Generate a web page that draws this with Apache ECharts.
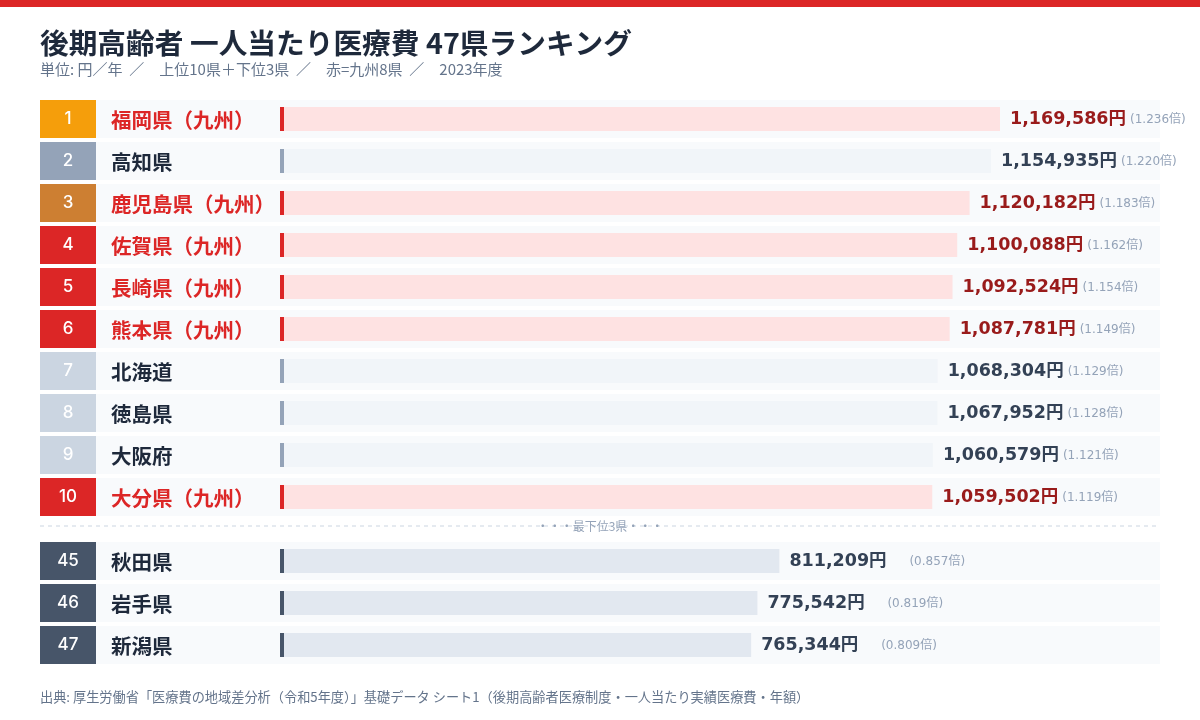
<!DOCTYPE html>
<html>
<head>
<meta charset="utf-8">
<script src="https://cdn.jsdelivr.net/npm/echarts@6/dist/echarts.min.js"></script>
<style>
html,body{margin:0;padding:0;background:#fff;}
#main{width:1200px;height:720px;}
</style>
</head>
<body>
<div id="main"></div>
<script>
// ---- data ----
const ranks = [1, 2, 3, 4, 5, 6, 7, 8, 9, 10, 45, 46, 47];
const prefectures = ['福岡県', '高知県', '鹿児島県', '佐賀県', '長崎県', '熊本県', '北海道', '徳島県', '大阪府', '大分県', '秋田県', '岩手県', '新潟県'];
const values = [1169586, 1154935, 1120182, 1100088, 1092524, 1087781, 1068304, 1067952, 1060579, 1059502, 811209, 775542, 765344];
const ratios = ['1.236', '1.220', '1.183', '1.162', '1.154', '1.149', '1.129', '1.128', '1.121', '1.119', '0.857', '0.819', '0.809'];
const kyushu = [true, false, true, true, true, true, false, false, false, true, false, false, false];
const topCount = 10;

const FONT = "'Noto Sans CJK JP', 'Noto Sans', sans-serif";
const NUMFONT = "Inter, 'Noto Sans CJK JP', sans-serif";
const VALFONT = "'DejaVu Sans', 'Noto Sans CJK JP', sans-serif";

function isBottom(i) { return i >= topCount; }
function badgeColor(i) {
  const r = ranks[i];
  if (r === 1) return '#f59e0b';
  if (r === 2) return '#94a3b8';
  if (r === 3) return '#cd7f32';
  if (isBottom(i)) return '#475569';
  if (kyushu[i]) return '#dc2626';
  return '#cbd5e1';
}
function barColor(i) { return kyushu[i] ? '#fee2e2' : (isBottom(i) ? '#e2e8f0' : '#f1f5f9'); }
function accentColor(i) { return kyushu[i] ? '#dc2626' : (isBottom(i) ? '#475569' : '#94a3b8'); }
function displayName(i) { return prefectures[i] + (kyushu[i] ? '（九州）' : ''); }

const groups = [
  { start: 0, end: topCount, top: 98, height: 420 },
  { start: topCount, end: ranks.length, top: 540, height: 126 }
];

const grids = [], xAxes = [], yAxes = [], series = [];
groups.forEach(function (g, gi) {
  grids.push({ left: 280, top: g.top, width: 720, height: g.height, containLabel: false });
  xAxes.push({ type: 'value', gridIndex: gi, min: 0, max: values[0], show: false });
  yAxes.push({ type: 'category', gridIndex: gi, inverse: true, data: prefectures.slice(g.start, g.end), show: false });
  const idxs = [];
  for (let i = g.start; i < g.end; i++) idxs.push(i);

  // row background, badge, name
  series.push({
    type: 'custom', xAxisIndex: gi, yAxisIndex: gi, z: 1, silent: true,
    data: idxs.map(function (i) { return [0, i - g.start]; }),
    renderItem: function (params, api) {
      const i = g.start + params.dataIndex;
      const p = api.coord([0, params.dataIndex]);
      const band = api.size([0, 1])[1];
      const rh = band - 4;
      const left = params.coordSys.x - 240;
      const right = params.coordSys.x + 880;
      return {
        type: 'group',
        children: [
          { type: 'rect', shape: { x: left, y: p[1] - rh / 2, width: right - left, height: rh }, style: { fill: '#f8fafc' } },
          { type: 'rect', shape: { x: left, y: p[1] - rh / 2, width: 56, height: rh }, style: { fill: badgeColor(i) } },
          { type: 'text', style: { x: left + 28, y: p[1], text: String(ranks[i]), align: 'center', verticalAlign: 'middle', fontSize: 17, fontWeight: 500, fontFamily: NUMFONT, fill: '#ffffff' } },
          { type: 'text', style: { x: left + 71, y: p[1] + 1, text: displayName(i), align: 'left', verticalAlign: 'middle', fontSize: 20.5, fontWeight: 'bold', fontFamily: FONT, fill: kyushu[i] ? '#dc2626' : '#1e293b' } }
        ]
      };
    }
  });

  // value bars
  series.push({
    type: 'bar', xAxisIndex: gi, yAxisIndex: gi, z: 2, barWidth: 24, silent: true,
    data: idxs.map(function (i) { return { value: values[i], itemStyle: { color: barColor(i) } }; }),
    label: {
      show: true, position: 'right', distance: 10,
      formatter: function (params) {
        const i = g.start + params.dataIndex;
        const v = values[i].toLocaleString('en-US') + '円';
        return '{' + (kyushu[i] ? 'vk' : 'vn') + '|' + v + '}{r|(' + ratios[i] + '倍)}';
      },
      rich: {
        vk: { fontSize: 17.5, fontWeight: 'bold', color: '#991b1b', width: 120, fontFamily: VALFONT },
        vn: { fontSize: 17.5, fontWeight: 'bold', color: '#334155', width: 120, fontFamily: VALFONT },
        r: { fontSize: 12, color: '#94a3b8', fontFamily: VALFONT, padding: [2, 0, 0, 0] }
      }
    }
  });

  // accent line at bar start
  series.push({
    type: 'custom', xAxisIndex: gi, yAxisIndex: gi, z: 3, silent: true,
    data: idxs.map(function (i) { return [0, i - g.start]; }),
    renderItem: function (params, api) {
      const i = g.start + params.dataIndex;
      const p = api.coord([0, params.dataIndex]);
      return { type: 'rect', shape: { x: p[0], y: p[1] - 12, width: 4, height: 24 }, style: { fill: accentColor(i) } };
    }
  });
});

const chart = echarts.init(document.getElementById('main'));
chart.setOption({
  backgroundColor: '#ffffff',
  animation: false,
  textStyle: { fontFamily: FONT },
  grid: grids, xAxis: xAxes, yAxis: yAxes, series: series,
  graphic: [
    { type: 'rect', shape: { x: 0, y: 0, width: 1200, height: 7 }, style: { fill: '#dc2626' } },
    { type: 'text', style: { x: 40, y: 43, text: '後期高齢者 一人当たり医療費 47県ランキング', verticalAlign: 'middle', fontSize: 28.7, fontWeight: 'bold', fontFamily: FONT, fill: '#1e293b' } },
    { type: 'text', style: { x: 40, y: 69, text: '単位: 円／年  ／　上位10県＋下位3県  ／　赤=九州8県  ／　2023年度', verticalAlign: 'middle', fontSize: 15, fontFamily: FONT, fill: '#64748b' } },
    { type: 'line', shape: { x1: 40, y1: 526, x2: 1160, y2: 526 }, style: { stroke: '#cbd5e1', lineWidth: 1, lineDash: [4, 4] } },
    { type: 'text', style: { x: 600, y: 526, text: '・・・最下位3県・・・', align: 'center', verticalAlign: 'middle', fontSize: 12, fontFamily: FONT, fill: '#94a3b8' } },
    { type: 'text', style: { x: 40, y: 697, text: '出典: 厚生労働省「医療費の地域差分析（令和5年度）」基礎データ シート1（後期高齢者医療制度・一人当たり実績医療費・年額）', verticalAlign: 'middle', fontSize: 13.2, fontFamily: FONT, fill: '#64748b' } }
  ]
});
</script>
</body>
</html>
